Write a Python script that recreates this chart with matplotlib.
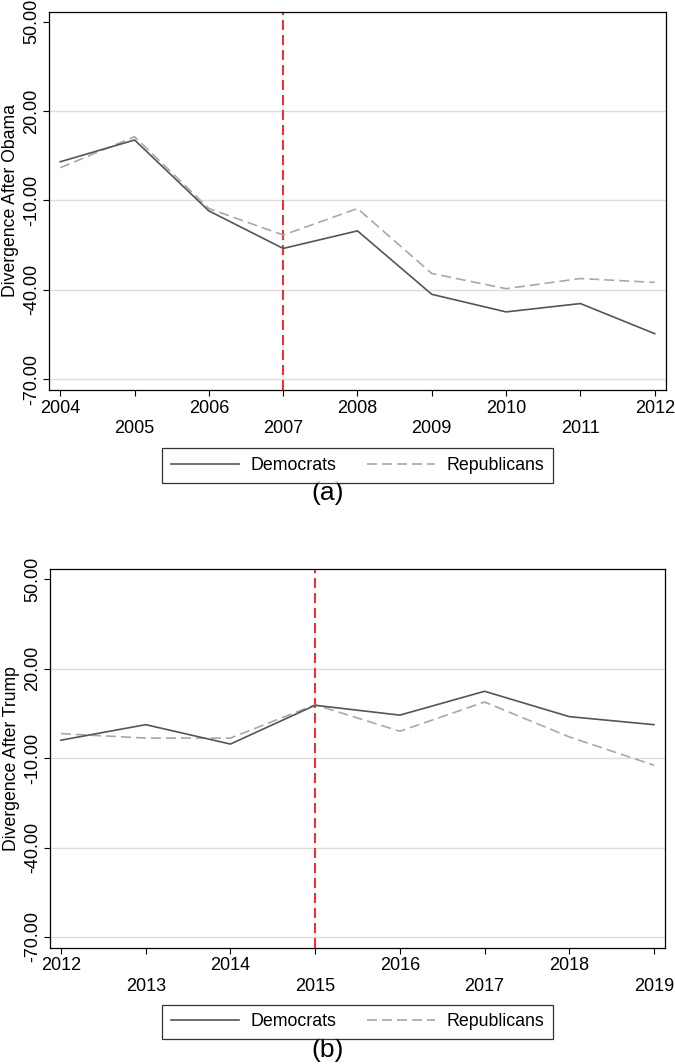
import matplotlib
matplotlib.use("Agg")
import matplotlib.pyplot as plt

plt.rcParams["font.family"] = ["Liberation Sans", "DejaVu Sans"]

# Panel (a): after Obama
years_a = [2004, 2005, 2006, 2007, 2008, 2009, 2010, 2011, 2012]
dem_a = [3.0, 10.3, -13.5, -26.1, -20.2, -41.5, -47.4, -44.6, -54.7]
rep_a = [1.0, 11.4, -12.7, -21.6, -12.7, -34.5, -39.6, -36.2, -37.5]
event_a = 2007

# Panel (b): after Trump
years_b = [2012, 2013, 2014, 2015, 2016, 2017, 2018, 2019]
dem_b = [-4.0, 1.2, -5.3, 7.7, 4.4, 12.4, 3.9, 1.2]
rep_b = [-1.8, -3.3, -3.3, 7.9, -1.0, 8.8, -2.9, -12.4]
event_b = 2015

y_ticks = [-70, -40, -10, 20, 50]
series_labels = ["Democrats", "Republicans"]

DEM_COLOR = "#555555"
REP_COLOR = "#a8a8a8"
GRID_COLOR = "#dcdcdc"


def plot_panel(fig, rect, years, dem, rep, event_year, y_label, caption, legend_y, caption_y):
    ax = fig.add_axes(rect)

    # grid at every tick except the top one, like the original
    for v in y_ticks[:-1]:
        ax.axhline(v, color=GRID_COLOR, lw=1.0, zorder=0)

    ax.axvline(event_year, color="red", lw=1.2, dashes=(6, 3), zorder=1)
    dem_line, = ax.plot(years, dem, color=DEM_COLOR, lw=1.2, zorder=3)
    rep_line, = ax.plot(years, rep, color=REP_COLOR, lw=1.2, dashes=(6, 3), zorder=2)

    margin = 0.0185 * (years[-1] - years[0])
    ax.set_xlim(years[0] - margin, years[-1] + margin)
    ax.set_ylim(-73.6, 53.4)

    # alternating two-row year labels
    ax.set_xticks(years[0::2])
    ax.set_xticks(years[1::2], minor=True)
    ax.set_xticklabels([str(y) for y in years[0::2]])
    ax.set_xticklabels([str(y) for y in years[1::2]], minor=True)
    ax.tick_params(axis="x", which="both", length=4.5, width=0.8, labelsize=13, direction="out")
    ax.tick_params(axis="x", which="major", pad=2.5)
    ax.tick_params(axis="x", which="minor", pad=17)

    ax.set_yticks(y_ticks)
    ax.set_yticklabels([f"{v:.2f}" for v in y_ticks], rotation=90, va="center")
    ax.tick_params(axis="y", length=4.5, width=0.8, labelsize=13, pad=2)
    ax.set_ylabel(y_label, fontsize=12.7, labelpad=3)

    for s in ax.spines.values():
        s.set_linewidth(0.9)
        s.set_color("black")

    leg = fig.legend([dem_line, rep_line], series_labels, loc="center",
                     bbox_to_anchor=(0.530, legend_y), ncol=2, fontsize=12.8,
                     frameon=True, fancybox=False, edgecolor="black",
                     handlelength=3.8, handletextpad=0.65, columnspacing=1.75,
                     borderpad=0.5)
    leg.get_frame().set_linewidth(0.9)

    fig.text(0.486, caption_y, caption, ha="center", va="center", fontsize=19)
    return ax


fig = plt.figure(figsize=(6.75, 10.64), dpi=100)

plot_panel(fig, [0.0730, 0.6335, 0.9132, 0.3556], years_a, dem_a, rep_a, event_a,
           "Divergence After Obama", "(a)", 0.5627, 0.5367)
plot_panel(fig, [0.0741, 0.1093, 0.9110, 0.3559], years_b, dem_b, rep_b, event_b,
           "Divergence After Trump", "(b)", 0.0395, 0.0132)

fig.savefig("out.png", dpi=100)
